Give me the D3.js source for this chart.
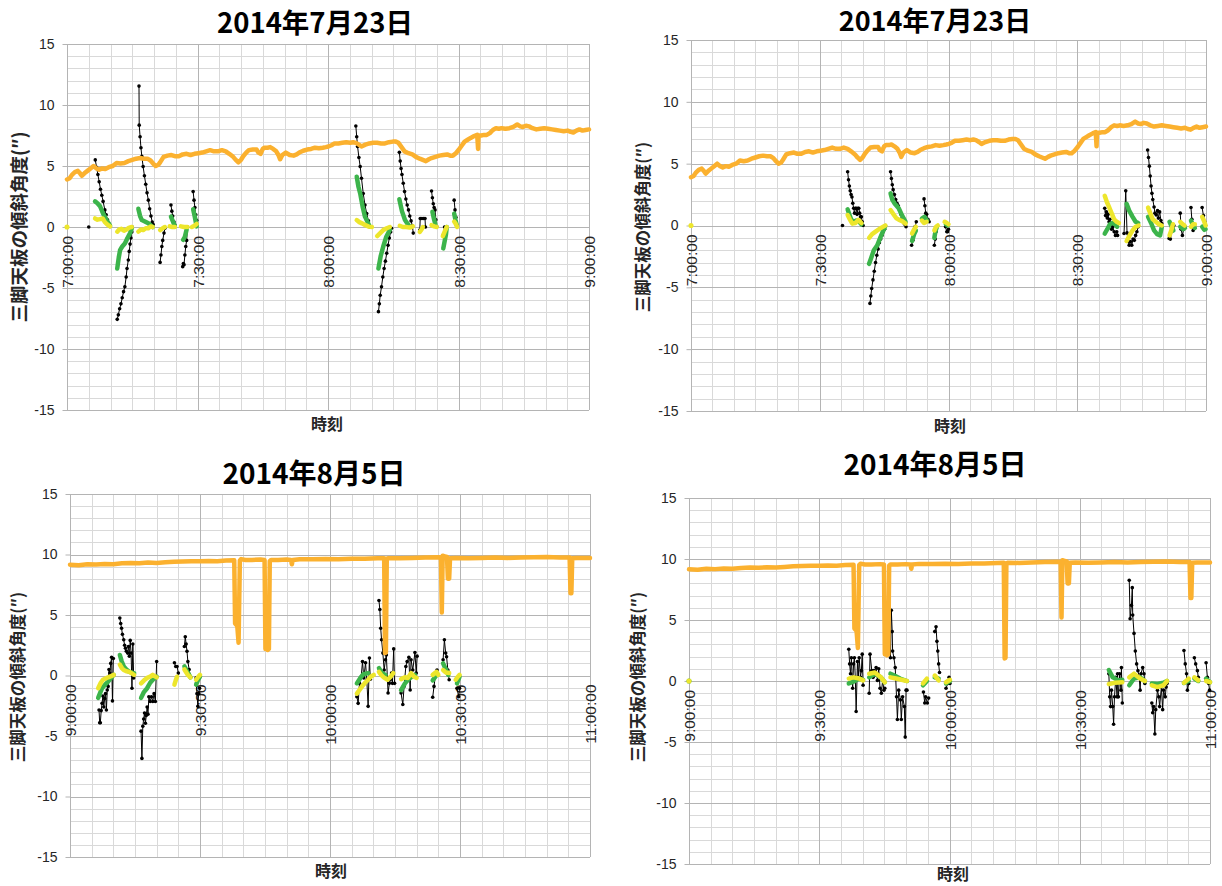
<!DOCTYPE html>
<html>
<head>
<meta charset="utf-8">
<script src="https://cdn.jsdelivr.net/npm/d3@7"></script>
<style>
  body { margin: 0; background: #fff; }
  svg { display: block; }
</style>
</head>
<body>
<svg id="chart" width="1222" height="886"></svg>
<script>
// ---- Data: time is minutes after the start of each 2-hour window, value is tilt (″) ----
const titles = ["2014年7月23日", "2014年7月23日", "2014年8月5日", "2014年8月5日"];
const yTicks = [-15, -10, -5, 0, 5, 10, 15];
const yTitle = "三脚天板の傾斜角度(″)";
const xTitle = "時刻";

// reference tripod (orange), 23 July 07:00–09:00
const orangeJul23 = [[0,3.9],[0.6,4.0],[1.2,4.3],[1.8,4.5],[2.5,4.6],[3.0,4.4],[3.4,4.2],[4.0,4.4],[4.7,4.6],[5.4,4.8],[6.1,5.0],[6.8,4.8],[7.4,4.7],[8.1,4.8],[8.8,4.75],[9.6,4.9],[10.5,5.0],[11.4,5.25],[12.3,5.2],[13.2,5.25],[14.1,5.4],[15.0,5.5],[15.9,5.6],[16.8,5.65],[17.7,5.6],[18.5,5.6],[19.2,5.45],[19.8,5.2],[20.4,5.0],[21.0,5.1],[21.4,5.3],[22.2,5.75],[23.1,5.85],[24.0,5.9],[24.8,5.8],[25.7,5.8],[26.6,5.95],[27.5,6.0],[28.4,5.9],[29.3,6.0],[30.2,6.05],[31.1,6.1],[32.0,6.2],[32.9,6.3],[33.8,6.2],[34.7,6.2],[35.6,6.3],[36.5,6.2],[37.3,6.0],[38.2,5.75],[38.8,5.5],[39.4,5.3],[40.0,5.5],[40.5,5.8],[41.2,6.1],[41.8,6.3],[42.7,6.35],[43.6,6.35],[44.0,6.1],[44.5,6.0],[45.0,6.4],[45.4,6.5],[46.1,6.5],[46.7,6.55],[47.4,6.4],[48.1,6.2],[48.6,5.9],[49.0,5.55],[49.5,5.9],[50.3,6.1],[51.2,5.9],[52.1,5.85],[52.8,5.95],[53.4,6.1],[54.3,6.25],[55.2,6.35],[56.1,6.4],[57.0,6.5],[57.9,6.45],[58.8,6.5],[59.5,6.55],[60.1,6.6],[60.8,6.7],[61.5,6.85],[62.4,6.85],[63.3,6.9],[64.2,6.95],[65.1,6.9],[65.8,6.95],[66.4,6.9],[67.1,6.75],[67.7,6.6],[68.6,6.75],[69.5,6.85],[70.4,6.9],[71.3,6.9],[72.2,6.85],[73.1,6.85],[74.0,6.95],[74.9,7.0],[75.6,7.0],[76.2,6.9],[76.9,6.55],[77.6,6.2],[78.5,6.05],[79.4,5.95],[80.2,5.75],[81.1,5.6],[81.8,5.5],[82.5,5.4],[83.2,5.55],[83.8,5.65],[84.7,5.75],[85.6,5.85],[86.5,5.9],[87.4,5.95],[88.1,5.85],[88.7,5.85],[89.4,6.05],[90.1,6.35],[90.8,6.7],[91.4,7.0],[92.1,7.15],[92.8,7.3],[93.6,7.45],[94.3,7.55],[94.5,6.4],[94.6,7.5],[95.2,7.5],[95.9,7.55],[96.5,7.55],[97.2,7.7],[97.9,7.95],[98.6,8.1],[99.3,8.05],[99.9,8.1],[100.8,8.05],[101.7,8.1],[102.6,8.2],[103.5,8.4],[104.2,8.25],[104.8,8.2],[105.5,8.3],[106.2,8.25],[107.0,8.1],[107.9,8.0],[108.8,8.05],[109.7,8.1],[110.6,8.05],[111.5,8.0],[112.4,7.95],[113.3,7.9],[114.2,7.85],[115.1,7.9],[115.8,7.8],[116.4,7.75],[117.1,7.9],[117.8,8.0],[118.5,7.9],[119.2,7.95],[120,8.0]];

// reference tripod (orange), 5 August 09:00–11:00
const orangeAug5 = [[0,9.15],[2,9.12],[4,9.2],[6,9.17],[8,9.22],[10,9.2],[12,9.27],[14,9.3],[16,9.28],[18,9.33],[20,9.3],[22,9.35],[24,9.4],[26,9.42],[28,9.45],[30,9.45],[32,9.47],[34,9.45],[36,9.5],[37.9,9.52],[38.1,4.3],[38.6,4.1],[38.9,2.7],[39.2,9.5],[39.5,9.62],[40.5,9.55],[42,9.55],[44,9.58],[44.9,9.55],[45.1,2.2],[45.3,2.6],[45.6,2.1],[45.9,2.2],[46.1,9.45],[46.4,9.55],[48,9.55],[50,9.58],[51,9.55],[51.2,9.2],[51.4,9.55],[53,9.6],[56,9.6],[59,9.62],[62,9.6],[65,9.64],[68,9.64],[71,9.68],[72.5,9.7],[72.7,1.85],[72.9,1.9],[73.1,9.65],[73.5,9.7],[76,9.68],[79,9.72],[82,9.75],[85,9.78],[85.6,9.75],[85.8,5.2],[86.0,9.9],[86.5,9.85],[87.0,9.8],[87.2,8.0],[87.5,8.0],[87.7,9.7],[89,9.72],[92,9.7],[95,9.72],[98,9.75],[101,9.72],[104,9.75],[107,9.78],[110,9.8],[113,9.75],[115.3,9.75],[115.5,6.8],[115.7,6.8],[115.9,9.7],[117,9.72],[120,9.72]];

// panel 1 (23 July)
const black1 = [
  [[5.0,0]],
  [[6.5,5.5],[6.8,4.9],[7.1,4.3],[7.4,3.7],[7.7,3.1],[8.0,2.6],[8.3,2.1],[8.7,1.4],[9.0,1.0],[9.3,0.6],[9.6,0.3],[9.9,0.05]],
  [[11.55,-7.57],[11.8,-7.2],[12.1,-6.7],[12.4,-6.3],[12.7,-5.8],[13.0,-5.3],[13.3,-4.9],[13.6,-4.1],[13.8,-3.4],[14.1,-2.7],[14.3,-2.0],[14.5,-1.4],[14.7,-0.9],[14.9,-0.4],[15.0,0]],
  [[16.55,11.55],[16.6,8.35],[16.8,7.4],[17.0,6.5],[17.2,5.8],[17.5,4.95],[17.8,4.2],[18.1,3.5],[18.4,2.8],[18.7,2.2],[19.0,1.5],[19.3,0.9],[19.6,0.4],[19.8,0.2]],
  [[21.4,-2.9],[21.6,-2.3],[21.8,-1.6],[22.0,-1.1],[22.3,-0.5],[22.5,-0.1]],
  [[23.9,1.8],[24.1,1.3],[24.3,0.9],[24.6,0.4],[24.8,0.15]],
  [[26.6,-3.25],[26.75,-3.0],[26.9,-3.1],[27.1,-2.3],[27.3,-1.6],[27.5,-1.1],[27.7,0]],
  [[29.0,2.9],[29.2,2.2],[29.4,1.6],[29.6,1.0],[29.8,0.55]],
  [[66.4,8.28],[66.6,7.4],[66.8,6.6],[67.1,5.7],[67.4,4.95],[67.7,4.0],[68.1,2.75],[68.5,1.8],[68.9,1.1],[69.3,0.5],[69.7,0.03]],
  [[71.6,-6.94],[71.8,-6.3],[72.0,-5.6],[72.3,-4.9],[72.6,-4.1],[72.9,-3.4],[73.2,-2.8],[73.5,-2.15],[73.8,-1.5],[74.1,-0.9],[74.4,-0.4],[74.6,-0.1]],
  [[76.4,6.12],[76.6,5.4],[76.8,4.8],[77.0,4.3],[77.3,3.58],[77.6,2.9],[77.9,2.3],[78.2,1.8],[78.5,1.4],[78.8,0.9],[79.1,0.5],[79.4,0.1],[79.6,-0.5]],
  [[81.1,-0.25],[81.2,0.7],[81.6,0.7],[82.0,0.7],[82.3,0.7],[82.4,0]],
  [[83.8,2.95],[84.0,2.4],[84.2,1.9],[84.4,1.6],[84.6,1.4],[84.8,0.6],[85.0,0.03]],
  [[86.5,-0.65],[86.8,0]],
  [[89.0,2.2],[89.2,1.4],[89.4,0.8],[89.6,0.15]]
];
const green1 = [
  [[6.45,2.1],[7.0,1.95],[7.6,1.7],[8.3,1.1],[9.1,0.57],[9.9,0.1]],
  [[11.55,-3.4],[11.9,-2.5],[12.2,-1.9],[12.7,-1.6],[13.3,-1.35],[13.9,-0.9],[14.5,-0.5],[14.9,-0.1]],
  [[16.4,1.5],[16.8,0.9],[17.2,0.57],[17.9,0.45],[18.7,0.3],[19.7,0]],
  [[23.9,0.85],[24.3,0.5],[24.8,0.05]],
  [[26.7,-1.05],[27.1,-0.8],[27.5,-0.2]],
  [[29.0,1.45],[29.4,0.8],[29.8,0.05]],
  [[66.6,4.12],[67.0,3.3],[67.4,2.75],[68.0,1.6],[68.5,0.85],[69.6,0.03]],
  [[71.6,-3.4],[72.1,-2.4],[72.7,-1.6],[73.4,-0.8],[74.2,-0.25]],
  [[76.4,2.27],[77.0,1.3],[77.7,0.57],[78.7,0.05]],
  [[84.0,1.25],[84.4,0.6],[84.7,0.2]],
  [[86.5,-1.75],[87.1,-0.65],[87.3,0]],
  [[89.0,1.1],[89.3,0.6],[89.6,0.15]]
];
const yellow1 = [
  [[0,0]],
  [[6.45,0.7],[7.0,0.6],[7.6,0.65],[8.2,0.7],[8.7,0.4],[9.3,0.2],[9.9,0.05]],
  [[11.55,-0.38],[12.0,-0.2],[12.5,-0.15],[13.1,-0.3],[13.7,-0.2],[14.3,-0.05],[14.9,0]],
  [[16.4,-0.38],[17.0,-0.2],[17.5,-0.25],[18.1,-0.1],[18.7,-0.1],[19.2,0.05],[19.7,0]],
  [[21.4,-0.25],[22.0,-0.1],[22.5,0]],
  [[23.6,0.05],[24.2,0],[24.8,0]],
  [[26.2,0.05],[26.9,0],[27.7,0]],
  [[28.7,0],[29.3,0.1],[29.8,0.25]],
  [[66.6,0.57],[67.2,0.4],[67.8,0.3],[68.6,0.15],[69.4,0.03],[70.1,0]],
  [[71.3,-0.74],[72.0,-0.5],[72.7,-0.25],[73.5,-0.1],[74.2,0]],
  [[76.5,0.1],[77.2,0],[78.0,0],[78.8,-0.05],[79.5,0.05]],
  [[81.1,-0.4],[81.5,-0.2],[81.8,0]],
  [[83.8,0.15],[84.4,0.05],[85.0,0]],
  [[86.4,-0.75],[86.8,-0.4],[87.3,0]],
  [[89.0,0.45],[89.3,0.3],[89.7,0]]
];

// panel 2 (23 July)
const black2 = [
  [[35.3,0]],
  [[36.5,4.35],[36.7,3.7],[36.9,3.2],[37.1,2.8],[37.3,2.5],[37.5,2.3],[37.7,1.8],[37.9,1.4],[38.1,1.0],[38.3,1.4],[38.5,1.4],[38.7,0.9],[38.9,1.4],[39.1,1.4],[39.3,1.0],[39.5,0.7],[39.7,0.7],[39.9,0.3],[40.1,0]],
  [[41.7,-6.3],[41.9,-5.7],[42.1,-5.1],[42.4,-4.4],[42.7,-3.7],[43.0,-3.0],[43.3,-2.4],[43.6,-1.9],[43.9,-1.4],[44.2,-1.1],[44.5,-0.8],[44.8,-0.5],[45.1,-0.3],[45.3,0]],
  [[46.5,4.35],[46.7,3.8],[46.9,3.3],[47.1,2.9],[47.4,2.5],[47.7,2.1],[48.0,1.8],[48.3,1.6],[48.6,1.2],[48.9,0.9],[49.2,0.6],[49.5,0.4],[49.8,0.1],[50.1,-0.1]],
  [[51.4,-1.6],[51.7,-1.2],[51.9,-0.6],[52.2,-0.1],[52.5,0.3]],
  [[54.3,2.15],[54.5,1.6],[54.7,1.0],[54.9,0.9],[55.2,0.5],[55.5,0.3]],
  [[56.7,-1.6],[56.9,-1.1],[57.1,-0.5],[57.3,-0.1]],
  [[59.3,-0.1],[59.6,-0.5],[59.8,-0.5],[60.0,-0.3]],
  [[96.4,1.4],[96.6,0.8],[96.8,1.1],[97.0,0.6],[97.2,0.9],[97.4,0.3],[97.6,0.5],[97.8,0],[98.0,-0.3],[98.3,-0.1],[98.6,-0.5],[98.9,-0.8],[99.2,-0.5],[99.4,-0.8]],
  [[100.9,-0.65],[101.3,2.8],[101.6,-0.6],[101.9,-1.3],[102.1,-1.6],[102.4,-1.3],[102.7,-1.6],[103.0,-1.1],[103.3,-1.2],[103.6,-0.8],[103.9,-0.5],[104.2,-0.1]],
  [[106.4,6.1],[106.6,5.5],[106.8,4.8],[107.0,4.0],[107.2,3.2],[107.4,2.6],[107.6,2.1],[107.9,1.5],[108.1,1.0],[108.4,0.85],[108.7,1.2],[108.9,0.6],[109.2,1.1],[109.5,0.4],[109.7,0.15]],
  [[111.4,-1.05],[111.7,-1.1],[112.0,-0.5],[112.3,-0.1],[112.5,0]],
  [[114.0,1.0],[114.2,-0.3],[114.5,-0.8],[114.8,-0.3],[115.0,0]],
  [[116.5,1.45],[116.7,0.5],[117.0,-0.4],[117.3,0]],
  [[119.1,1.45],[119.4,0.8],[119.7,0.3],[119.9,0]]
];
const green2 = [
  [[36.5,1.3],[36.9,0.9],[37.3,0.5],[37.9,0.3],[38.5,0.4],[39.2,0.3],[39.7,0.1]],
  [[41.5,-3.1],[42.0,-2.6],[42.6,-2.0],[43.4,-1.6],[44.2,-0.9],[45.2,-0.1]],
  [[46.5,2.6],[46.9,2.1],[47.4,1.8],[48.4,1.4],[49.2,0.8],[50.0,0.3]],
  [[51.5,-1.25],[52.0,-0.7],[52.4,-0.4]],
  [[53.8,0.55],[54.4,0.7],[55.0,0.4]],
  [[56.7,-1.0],[57.0,-0.4],[57.3,-0.1]],
  [[59.4,0.1],[59.8,0]],
  [[96.4,-0.65],[97.0,-0.3],[97.6,0.1],[98.2,0.2],[98.8,0.1],[99.3,-0.1]],
  [[101.5,1.75],[102.1,1.2],[102.9,0.7],[103.6,0.3],[104.2,0.2]],
  [[106.5,0.7],[107.2,0.2],[107.9,-0.4],[108.6,-0.7],[109.3,-0.8],[109.7,-0.1]],
  [[111.5,0.3],[112.4,-0.4]],
  [[114.0,-0.1],[114.7,-0.3],[115.1,-0.2]],
  [[116.5,0.4],[117.0,0.0],[117.4,-0.2]],
  [[119.1,-0.1],[119.6,-0.35],[119.9,-0.3]]
];
const yellow2 = [
  [[0,0]],
  [[36.5,0.85],[37.0,0.5],[37.6,0.15],[38.3,0.2],[39.0,0.45],[39.7,0.2]],
  [[41.5,-1.0],[42.2,-0.7],[43.0,-0.5],[43.8,-0.3],[44.5,-0.15],[45.3,0]],
  [[46.5,1.25],[47.1,0.95],[47.8,0.6],[48.5,0.45],[49.2,0.35],[50.0,0.15]],
  [[51.5,-0.65],[52.0,-0.3],[52.4,-0.1]],
  [[53.8,0.4],[54.3,0.2],[54.9,0.3]],
  [[56.7,-0.4],[57.1,-0.1],[57.5,0]],
  [[59.1,0.3],[59.6,0.2],[60.0,0.1]],
  [[96.4,2.4],[96.9,1.9],[97.4,1.5],[98.0,1.0],[98.6,0.5],[99.2,0.3],[99.7,0.2]],
  [[101.5,-1.25],[102.2,-0.8],[102.9,-0.4],[103.6,-0.1],[104.3,0]],
  [[106.5,1.45],[107.0,1.0],[107.6,0.5],[108.3,0.3],[109.0,0.1],[109.7,0]],
  [[111.5,-0.8],[111.9,-0.4],[112.3,0.1]],
  [[114.0,0.3],[114.6,0.1],[115.0,0]],
  [[116.5,-0.1],[117.0,0.1],[117.4,0.1]],
  [[119.1,0.7],[119.5,0.4],[119.9,0]]
];

// panel 3 (5 August)
const black3 = [
  [[6.7,-2.85],[6.85,-3.9],[7.0,-3.9],[7.2,-2.9],[7.4,-2.3],[7.6,-1.7],[7.8,-2.6],[8.0,-1.9],[8.2,-1.5],[8.4,-2.85],[8.6,-1.2],[8.8,-0.9],[9.0,0.5],[9.2,0.2],[9.4,1.0],[9.6,1.5],[9.8,-2.1],[10.0,1.4]],
  [[11.5,4.75],[11.7,4.3],[11.9,3.9],[12.1,3.4],[12.4,2.95],[12.6,2.5],[12.8,2.25],[13.0,2.0],[13.3,1.85],[13.5,2.4],[13.7,1.6],[13.9,2.9],[14.1,1.85],[14.3,-1.05],[14.5,2.6],[14.7,-0.2]],
  [[16.4,-4.6],[16.6,-6.85],[16.8,-4.2],[17.0,-3.6],[17.2,-3.1],[17.4,-3.95],[17.6,-3.3],[17.8,-2.6],[18.0,-3.2],[18.2,-1.75],[18.5,-2.15],[18.8,-1.75],[19.1,-2.15],[19.4,-1.5],[19.7,-2.15],[20.0,1.15]],
  [[24.1,1.05],[24.4,0.75],[24.7,0.75],[25.0,0.2]],
  [[26.4,2.4],[26.6,3.2],[26.8,2.6],[27.0,2.0],[27.2,1.15],[27.5,0.5],[27.8,-0.15]],
  [[29.1,-0.2],[29.3,-1.5],[29.5,-2.55],[29.7,-1.5],[29.9,-1.05]],
  [[66.2,-1.75],[66.5,-2.3],[66.8,-0.65],[67.2,-0.1],[67.5,1.15],[67.8,-0.2],[68.2,1.05],[68.5,-0.4],[68.8,-2.55],[69.1,1.45],[69.3,-0.3]],
  [[71.3,6.2],[71.5,5.45],[71.7,3.9],[71.9,2.95],[72.2,1.85],[72.5,0.45],[72.8,1.3],[73.0,1.7],[73.4,-1.45],[73.7,-0.65],[73.9,-0.35],[74.2,0.2],[74.4,-0.65],[74.7,2.2],[74.9,-0.65]],
  [[76.4,-1.45],[76.8,-2.4],[77.1,-0.9],[77.5,0.75],[77.8,1.15],[78.2,1.5],[78.5,-1.2],[78.7,1.3],[79.1,0.45],[79.6,1.9],[79.9,0.2],[80.1,1.6]],
  [[83.7,-1.8],[84.0,-0.9],[84.4,0.2],[84.7,0.45]],
  [[86.1,1.3],[86.4,2.95],[86.7,1.85],[86.9,1.55],[87.2,0.45],[87.5,-0.35]],
  [[89.3,-1.05],[89.7,-1.75],[89.9,-1.05]]
];
const green3 = [
  [[6.5,-1.85],[7.0,-1.4],[7.4,-1.05],[8.1,-0.75],[8.8,-0.5],[9.5,-0.2],[10.1,0.05]],
  [[11.5,1.7],[11.9,1.2],[12.4,0.75],[13.0,0.5],[13.7,0.3],[14.8,0.2]],
  [[16.4,-1.85],[17.0,-1.4],[17.8,-1.05],[18.5,-0.6],[19.1,-0.35],[20.0,-0.1]],
  [[26.4,0.75],[27.1,0.3],[27.8,-0.15]],
  [[29.1,-0.75],[29.5,-0.4],[30.0,-0.1]],
  [[66.2,-0.65],[67.0,-0.2],[67.7,0.1],[68.8,0.2]],
  [[71.3,0.6],[72.0,0.2],[72.8,0.05]],
  [[76.4,-1.2],[77.3,-0.65],[78.0,-0.35],[78.7,-0.15],[79.6,0.05]],
  [[83.7,-0.4],[84.6,0.05]],
  [[86.1,1.0],[86.8,0.45],[87.3,0.05]],
  [[89.3,-0.65],[89.9,-0.1]]
];
const yellow3 = [
  [[6.5,-1.05],[7.1,-0.6],[7.6,-0.35],[8.2,-0.25],[8.8,-0.15],[9.5,-0.05],[10.1,0.05]],
  [[11.5,0.9],[12.0,0.6],[12.4,0.45],[13.0,0.35],[13.7,0.3],[14.8,0.05]],
  [[16.4,-0.65],[17.1,-0.4],[17.8,-0.2],[18.5,-0.1],[19.1,0.05],[20.0,-0.15]],
  [[24.1,-0.75],[24.4,-0.4],[24.7,-0.1]],
  [[26.4,0.5],[27.1,0.1],[27.8,-0.15]],
  [[29.1,-0.35],[29.6,-0.1],[30.0,0.05]],
  [[66.2,-1.5],[66.8,-1.2],[67.4,-0.9],[68.1,-0.6],[68.8,-0.35],[69.4,-0.1],[70.1,0.05]],
  [[71.3,0.3],[71.8,0.05],[72.4,-0.15],[73.3,-0.35],[74.0,-0.1],[74.6,0.2]],
  [[76.4,-0.3],[77.3,-0.15],[78.0,-0.2],[78.7,0.2],[79.4,-0.1],[80.0,-0.2]],
  [[83.7,0.05],[84.6,0.3],[85.0,0.05]],
  [[86.1,0.45],[86.7,0.25],[87.5,0.2]],
  [[89.0,-0.35],[89.5,-0.1],[89.9,0.05]]
];

// panel 4 (5 August)
const black4 = [
  [[36.8,2.6],[37.0,1.4],[37.2,0.6],[37.4,1.9],[37.7,-0.6],[37.9,1.4],[38.1,1.9],[38.3,0.3],[38.5,-2.5],[38.8,1.6],[39.0,0.3],[39.2,1.9],[39.5,0.3],[39.7,0.85],[39.9,2.2],[40.1,-0.35]],
  [[41.5,-1.0],[41.7,2.2],[42.1,0.85],[42.4,0.3],[42.6,0.85],[42.9,0.5],[43.1,1.1],[43.4,0.05],[43.7,1.0],[44.0,-0.6],[44.3,-1.0],[44.6,0.05],[44.9,-0.75],[45.1,-0.6]],
  [[46.4,1.9],[46.6,5.8],[46.8,4.05],[46.9,2.45],[47.2,1.9],[47.5,1.1],[47.8,-1.3],[48.0,-3.15],[48.3,-0.75],[48.7,-1.55],[48.9,-3.15],[49.2,-1.3],[49.6,-2.1],[49.8,-4.6],[50.0,-0.75],[50.2,-0.75]],
  [[54.0,-0.9],[54.3,-1.8],[54.5,-1.3],[54.9,-1.8],[55.2,-1.4]],
  [[56.6,4.05],[56.9,4.45],[57.1,3.25],[57.3,2.45],[57.5,1.4],[57.7,0.7]],
  [[59.2,-0.6],[59.6,-0.2],[59.9,0.3],[60.1,-0.2]],
  [[96.7,0.6],[96.9,-1.3],[97.1,-2.1],[97.3,-0.75],[97.6,-2.1],[97.8,-3.55],[98.0,-1.3],[98.3,0.3],[98.6,-1.3],[98.7,0.6],[98.9,-1.3],[99.2,0.6],[99.5,-0.75],[99.6,1.1],[99.8,-1.8]],
  [[101.4,8.25],[101.6,5.1],[101.9,6.2],[102.1,7.65],[102.2,5.4],[102.5,3.9],[102.8,2.45],[103.1,1.4],[103.4,0.85],[103.7,0.3],[103.9,-0.75],[104.1,0.6],[104.5,1.1],[104.8,0.6],[105.0,-0.2]],
  [[106.6,-1.8],[106.8,-2.6],[107.0,-2.1],[107.3,-4.35],[107.5,-2.35],[107.9,-0.75],[108.2,-1.3],[108.4,-2.1],[108.8,-0.5],[109.1,-2.35],[109.3,-0.75],[109.7,-1.3],[109.9,-0.5],[110.1,-0.2]],
  [[114.0,2.5],[114.3,1.4],[114.6,0.6],[114.8,-0.75],[115.1,-0.2]],
  [[116.4,1.9],[116.7,1.4],[117.1,0.85],[117.3,0.3]],
  [[119.1,1.5],[119.4,0.3],[119.7,-0.2],[119.9,-0.75]]
];
const green4 = [
  [[0,0]],
  [[36.8,-0.2],[37.9,-0.05],[39.2,0.2],[40.1,0.1]],
  [[41.5,0.3],[42.8,0.6],[44.2,0.3],[45.1,-0.1]],
  [[46.4,0.6],[47.3,0.45],[48.6,0.2],[50.2,0]],
  [[53.9,-0.35],[54.8,0]],
  [[56.6,0.3],[57.5,0.2]],
  [[59.2,-0.2],[60.1,0]],
  [[96.7,0.9],[97.6,0.3],[98.9,0.05],[99.8,0.1]],
  [[101.4,-0.35],[102.5,0.2],[103.9,0.3],[105.0,0]],
  [[106.6,-0.2],[107.9,-0.25],[109.3,-0.15],[110.1,0]],
  [[114.0,-0.15],[115.1,0]],
  [[116.4,0.2],[117.3,0]],
  [[119.1,0.2],[120.0,-0.1]]
];
const yellow4 = [
  [[0,0]],
  [[36.8,0.2],[37.9,0.3],[39.2,0.2],[40.1,0.05]],
  [[41.5,0.6],[42.8,0.7],[44.2,0.3],[45.1,-0.1]],
  [[46.4,0.3],[47.7,0.2],[50.2,0]],
  [[53.9,-0.2],[54.8,0.2]],
  [[56.6,0.45],[57.5,0.05]],
  [[59.2,-0.1],[60.1,0.1]],
  [[96.7,-0.25],[98.0,-0.15],[99.8,-0.1]],
  [[101.4,0.3],[102.5,0.6],[103.9,0.2],[105.0,0]],
  [[106.6,-0.35],[107.9,-0.5],[109.3,-0.35],[110.1,0]],
  [[114.0,-0.15],[115.1,0.2]],
  [[116.4,0.3],[117.3,0.05]],
  [[119.1,0],[120.0,-0.1]]
];

// ---- Layout of the four panels ----
const panels = [
  { title: titles[0], start: new Date(2014, 6, 23, 7), box: {l: 67, r: 589, t: 44, b: 410},
    titleX: 315, titleY: 33, titleSize: 27.5, yTitleX: 19, yTitleY: 227, yTitleSize: 18.5, xTitleX: 327, xTitleY: 430,
    black: black1, green: green1, yellow: yellow1, orange: orangeJul23 },
  { title: titles[1], start: new Date(2014, 6, 23, 7), box: {l: 691, r: 1206, t: 40, b: 411},
    titleX: 935, titleY: 31, titleSize: 27, yTitleX: 643, yTitleY: 227, yTitleSize: 16.5, xTitleX: 950, xTitleY: 432,
    black: black2, green: green2, yellow: yellow2, orange: orangeJul23 },
  { title: titles[2], start: new Date(2014, 7, 5, 9), box: {l: 70, r: 590, t: 494, b: 857},
    titleX: 314, titleY: 484, titleSize: 28, yTitleX: 18, yTitleY: 677, yTitleSize: 16.5, xTitleX: 331, xTitleY: 877,
    black: black3, green: green3, yellow: yellow3, orange: orangeAug5 },
  { title: titles[3], start: new Date(2014, 7, 5, 9), box: {l: 689, r: 1210, t: 498, b: 864},
    titleX: 935, titleY: 475, titleSize: 28, yTitleX: 638, yTitleY: 677, yTitleSize: 16.5, xTitleX: 953, xTitleY: 880,
    black: black4, green: green4, yellow: yellow4, orange: orangeAug5 }
];

const COLORS = { orange: "#fbb12f", green: "#3cb44b", yellow: "#ede62c", black: "#000",
                 gridMinor: "#d9d9d9", gridMajor: "#b4b4b4", text: "#262626" };
const LATIN = "'Liberation Sans', Arial, sans-serif";
const CJK = "'Noto Sans CJK JP', 'Noto Sans', sans-serif";

const svg = d3.select("#chart");
svg.append("rect").attr("width", 1222).attr("height", 886).attr("fill", "#fff");

function drawPanel(p) {
  const g = svg.append("g");
  const {l, r, t, b} = p.box;
  const end = d3.timeMinute.offset(p.start, 120);
  const x = d3.scaleTime().domain([p.start, end]).range([l, r]);
  const y = d3.scaleLinear().domain([-15, 15]).range([b, t]);
  const at = m => new Date(p.start.getTime() + m * 60000);
  const crisp = v => Math.round(v) + 0.5;

  // gridlines: minor first, then major on top
  const vTimes = x.ticks(d3.timeMinute.every(5));
  const isMajorT = d => d.getMinutes() % 30 === 0;
  const hVals = d3.range(-15, 16);
  const isMajorV = v => v % 5 === 0;
  const grid = g.append("g").attr("shape-rendering", "crispEdges");
  [false, true].forEach(major => {
    grid.append("g").selectAll("line").data(vTimes.filter(d => isMajorT(d) === major)).join("line")
      .attr("x1", d => crisp(x(d))).attr("x2", d => crisp(x(d)))
      .attr("y1", t).attr("y2", b)
      .attr("stroke", major ? COLORS.gridMajor : COLORS.gridMinor).attr("stroke-width", 1);
    grid.append("g").selectAll("line").data(hVals.filter(v => isMajorV(v) === major)).join("line")
      .attr("x1", l).attr("x2", r)
      .attr("y1", d => crisp(y(d))).attr("y2", d => crisp(y(d)))
      .attr("stroke", major ? COLORS.gridMajor : COLORS.gridMinor).attr("stroke-width", 1);
  });

  // y axis
  const ya = g.append("g").attr("transform", `translate(${Math.round(l) + 0.5},0)`)
    .call(d3.axisLeft(y).tickValues(yTicks).tickSize(5).tickPadding(8).tickFormat(d => String(d)));
  ya.select(".domain").remove();
  ya.selectAll(".tick line").attr("stroke", COLORS.gridMajor);
  ya.selectAll(".tick text").attr("font-family", LATIN).attr("font-size", 14).attr("fill", COLORS.text);

  // x axis labels sit on the zero line, rotated
  const xa = g.append("g").attr("transform", `translate(0,${y(0)})`)
    .call(d3.axisBottom(x).ticks(d3.timeMinute.every(30)).tickSize(0).tickFormat(d3.timeFormat("%-H:%M:%S")));
  xa.select(".domain").remove();
  xa.selectAll(".tick text")
    .attr("transform", "rotate(-90)").attr("text-anchor", "end")
    .attr("x", -9).attr("y", 0).attr("dy", "0.36em")
    .attr("font-family", LATIN).attr("font-size", 15.5).attr("fill", COLORS.text);

  // series
  const line = d3.line().x(d => x(at(d[0]))).y(d => y(d[1]));
  const drawSegments = (segs, color, width, cls) => {
    const sg = g.append("g").attr("class", cls);
    sg.selectAll("path").data(segs.filter(s => s.length > 1)).join("path")
      .attr("d", line).attr("fill", "none").attr("stroke", color).attr("stroke-width", width)
      .attr("stroke-linecap", "round").attr("stroke-linejoin", "round");
    sg.selectAll("circle").data(segs.filter(s => s.length === 1).map(s => s[0])).join("circle")
      .attr("cx", d => x(at(d[0]))).attr("cy", d => y(d[1])).attr("r", width / 2 + 0.3).attr("fill", color);
    return sg;
  };

  const bg = drawSegments(p.black, COLORS.black, 1, "black");
  bg.append("g").selectAll("circle").data(p.black.flat()).join("circle")
    .attr("cx", d => x(at(d[0]))).attr("cy", d => y(d[1])).attr("r", 1.8).attr("fill", COLORS.black);
  drawSegments(p.green, COLORS.green, 4.5, "green");
  drawSegments(p.yellow, COLORS.yellow, 4.5, "yellow");
  drawSegments([p.orange], COLORS.orange, 4.5, "orange");

  // titles
  g.append("text").attr("x", p.titleX).attr("y", p.titleY).attr("text-anchor", "middle")
    .attr("font-family", CJK).attr("font-weight", 700).attr("font-size", p.titleSize).attr("fill", "#000")
    .text(p.title);
  g.append("text").attr("x", p.xTitleX).attr("y", p.xTitleY).attr("text-anchor", "middle")
    .attr("font-family", CJK).attr("font-weight", 700).attr("font-size", 16).attr("fill", COLORS.text)
    .text(xTitle);
  g.append("text").attr("transform", `translate(${p.yTitleX},${p.yTitleY}) rotate(-90)`)
    .attr("text-anchor", "middle").attr("dy", "0.36em")
    .attr("font-family", CJK).attr("font-weight", 700).attr("font-size", p.yTitleSize).attr("fill", COLORS.text)
    .text(yTitle);
}

panels.forEach(drawPanel);
</script>
</body>
</html>
